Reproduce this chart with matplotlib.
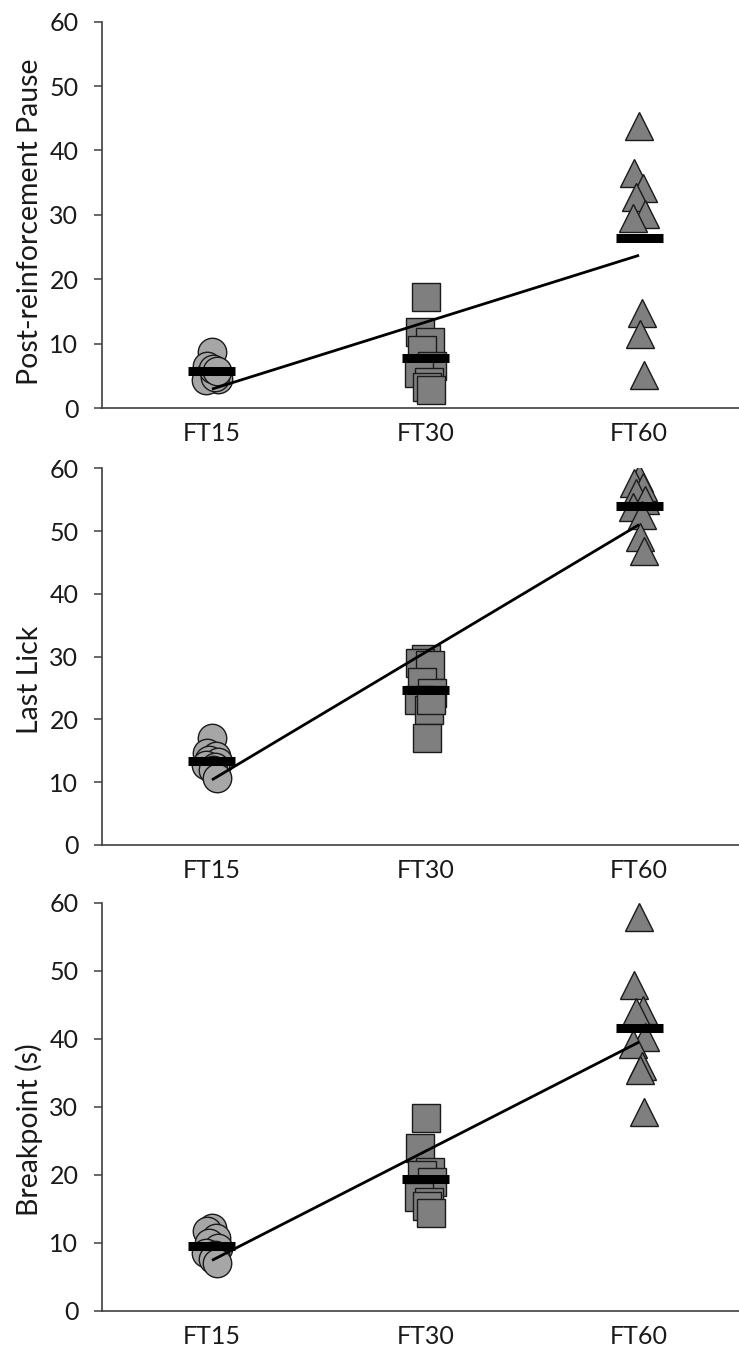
import numpy as np
import matplotlib
matplotlib.use("Agg")
import matplotlib.pyplot as plt

plt.rcParams['font.family'] = ['Lato', 'DejaVu Sans']

# Conditions (x-axis categories)
categories = ["FT15", "FT30", "FT60"]

# Post-reinforcement pause per subject
prp_ft15 = [8.7, 6.5, 5.8, 5.0, 4.5, 4.3, 4.8, 6.0, 5.7]
prp_ft30 = [17.2, 11.8, 10.2, 9.0, 6.5, 5.5, 4.0, 3.3, 2.8]
prp_ft60 = [43.8, 36.5, 34.1, 32.7, 30.2, 29.5, 14.8, 11.5, 5.2]

# Last lick per subject
ll_ft15 = [17.0, 14.6, 14.2, 13.6, 13.2, 12.8, 12.4, 12.0, 10.6]
ll_ft30 = [29.7, 29.0, 28.6, 26.0, 24.2, 23.1, 21.5, 17.1, 23.1]
ll_ft60 = [58.4, 57.6, 57.1, 56.0, 55.0, 53.8, 52.5, 49.1, 46.8]

# Breakpoint (s) per subject
bp_ft15 = [12.2, 11.8, 10.8, 10.0, 9.3, 8.6, 8.2, 7.6, 7.0]
bp_ft30 = [28.4, 23.9, 20.5, 20.0, 19.0, 16.8, 16.1, 15.5, 14.4]
bp_ft60 = [58.0, 47.9, 44.3, 44.0, 40.3, 39.3, 36.0, 35.4, 29.2]

panels = [
    ("Post-reinforcement Pause", [prp_ft15, prp_ft30, prp_ft60]),
    ("Last Lick", [ll_ft15, ll_ft30, ll_ft60]),
    ("Breakpoint (s)", [bp_ft15, bp_ft30, bp_ft60]),
]

W, H = 739, 1356
fig = plt.figure(figsize=(W / 100, H / 100), dpi=100)

# axes frames in pixels: (left, right, top, bottom)
frames = [(102, 739, 21.7, 408), (102, 739, 468.3, 845), (102, 739, 903, 1311)]
label_y = [222, 680, 1130]

markers = ["o", "s", "^"]
faces = ["#a6a6a6", "#7f7f7f", "#7f7f7f"]
msizes = [20.5, 20, 20]
jitter = [0.0, -0.025, 0.02, -0.015, 0.03, -0.03, 0.015, 0.005, 0.025]

for (ylabel, groups), (l, r, t, b), ly in zip(panels, frames, label_y):
    ax = fig.add_axes([l / W, 1 - b / H, (r - l) / W, (b - t) / H])
    xs = np.arange(1, len(categories) + 1)
    means = []
    for xi, vals, mk, fc, ms in zip(xs, groups, markers, faces, msizes):
        vals = np.asarray(vals)
        off = np.array(jitter[:len(vals)])
        ax.plot(xi + off, vals, linestyle="none", marker=mk, markersize=ms,
                markerfacecolor=fc, markeredgecolor="#1a1a1a", markeredgewidth=1.0,
                zorder=2)
        means.append(vals.mean())
    means = np.array(means)
    for xi, m in zip(xs, means):
        ax.hlines(m, xi - 0.11, xi + 0.11, colors="black", linewidth=6.5,
                  zorder=3, capstyle="butt")
    slope, icpt = np.polyfit(xs, means, 1)
    ax.plot([xs[0], xs[-1]], [icpt + slope * xs[0], icpt + slope * xs[-1]],
            color="black", linewidth=2.0, zorder=4, solid_capstyle="butt")

    ax.set_xlim(0.485, 3.468)
    ax.set_ylim(0, 60)
    ax.set_yticks(np.arange(0, 61, 10))
    ax.set_xticks(xs)
    ax.set_xticklabels(categories)
    for side in ("top", "right"):
        ax.spines[side].set_visible(False)
    for side in ("left", "bottom"):
        ax.spines[side].set_color("#404040")
        ax.spines[side].set_linewidth(1.2)
    ax.tick_params(axis="y", direction="out", length=6, width=1.1,
                   color="#404040", labelsize=18, pad=11, labelcolor="#1a1a1a")
    ax.tick_params(axis="x", length=0, labelsize=18, pad=10, labelcolor="#1a1a1a")
    fig.text(43 / W, 1 - ly / H, ylabel, rotation=90, ha="right", va="center",
             fontsize=20.5, color="#1a1a1a")

fig.savefig("out.png", dpi=100)
